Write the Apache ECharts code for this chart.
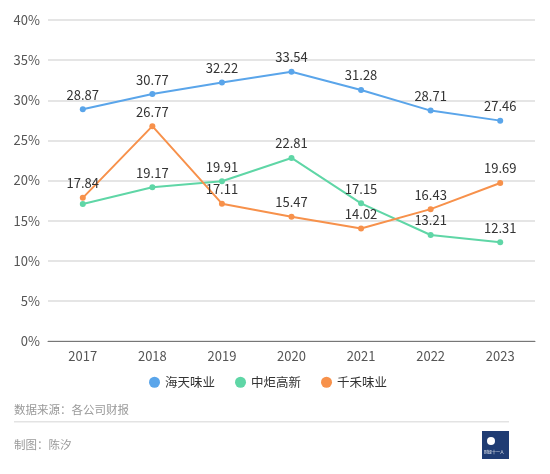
<!DOCTYPE html>
<html><head><meta charset="utf-8">
<script src="https://cdn.jsdelivr.net/npm/echarts@6/dist/echarts.min.js"></script>
<style>html,body{margin:0;padding:0;background:#fff}#c{width:550px;height:474px}</style>
</head><body><div id="c"></div>
<script>
var years = ['2017','2018','2019','2020','2021','2022','2023'];
var seriesNames = ['海天味业','中炬高新','千禾味业'];
var haitian = [28.87, 30.77, 32.22, 33.54, 31.28, 28.71, 27.46];
var zhongju = [17.06, 19.17, 19.91, 22.81, 17.15, 13.21, 12.31];
var qianhe = [17.84, 26.77, 17.11, 15.47, 14.02, 16.43, 19.69];
var colors = ['#5aa5ea', '#5fd6a6', '#f7914b'];
var font = '"Noto Sans CJK SC","Noto Sans",sans-serif';
var chart = echarts.init(document.getElementById('c'));
function mk(name, data, color, hideFirst) {
  return {
    name: name, type: 'line', data: data.map(function(v, i){
      return (hideFirst && i === 0) ? {value: v, label: {show: false}} : v;
    }),
    symbol: 'circle', symbolSize: 6,
    lineStyle: {width: 2, color: color}, itemStyle: {color: color},
    label: {show: true, position: 'top', distance: 5, color: '#333', fontSize: 13, fontFamily: font},
    z: 3
  };
}
chart.setOption({
  animation: false,
  textStyle: {fontFamily: font},
  grid: {left: 48, right: 15, top: 20, bottom: 133, containLabel: false},
  legend: {
    top: 371, left: 144, icon: 'circle', itemWidth: 11, itemHeight: 11, itemGap: 20,
    textStyle: {color: '#333', fontSize: 12.5, fontFamily: font},
    data: seriesNames
  },
  xAxis: {
    type: 'category', data: years, boundaryGap: true,
    axisLine: {lineStyle: {color: '#777'}},
    axisTick: {alignWithLabel: true, length: 5, lineStyle: {color: '#777'}},
    axisLabel: {color: '#555', fontSize: 13, margin: 9}
  },
  yAxis: {
    type: 'value', min: 0, max: 40, interval: 5,
    axisLabel: {formatter: '{value}%', color: '#555', fontSize: 13, margin: 8},
    axisLine: {show: false}, axisTick: {show: false},
    splitLine: {lineStyle: {color: '#ddd', width: 1.5}}
  },
  series: [
    mk(seriesNames[0], haitian, colors[0], false),
    mk(seriesNames[1], zhongju, colors[1], true),
    mk(seriesNames[2], qianhe, colors[2], false)
  ],
  graphic: [
    {type: 'text', left: 14, top: 404, style: {text: '数据来源：各公司财报', fill: '#999', fontSize: 11.5, fontFamily: font}},
    {type: 'rect', shape: {x: 14, y: 421, width: 495, height: 1.5}, style: {fill: '#e3e3e3'}},
    {type: 'text', left: 14, top: 439, style: {text: '制图：陈汐', fill: '#999', fontSize: 11.5, fontFamily: font}},
    {type: 'rect', shape: {x: 482, y: 431, width: 27, height: 28}, style: {fill: '#1f3c73'}},
    {type: 'circle', shape: {cx: 491, cy: 441, r: 4}, style: {fill: '#fff'}},
    {type: 'text', left: 484, top: 450, style: {text: '财经十一人', fill: '#fff', fontSize: 4, fontFamily: font}}
  ]
});
</script></body></html>
